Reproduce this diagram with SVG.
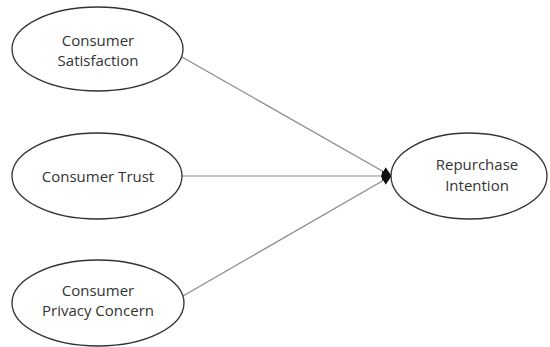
<svg xmlns="http://www.w3.org/2000/svg" width="550" height="347" viewBox="0 0 550 347">
<style>
.n{fill:#fff;stroke:#333;stroke-width:1.3}
.t{font-family:"Open Sans",sans-serif;font-size:15px;fill:#333;text-anchor:middle}
.c{stroke:#888;stroke-width:1.2;fill:none}
</style>
<defs>
<marker id="ah" markerWidth="10" markerHeight="10" refX="9" refY="5" orient="auto" markerUnits="userSpaceOnUse">
<path d="M0,0 L10,5 L0,10 Z" fill="#111"/>
</marker>
</defs>
<rect width="550" height="347" fill="#fff"/>
<g id="connectors">
<line class="c" x1="182" y1="57" x2="391" y2="176" marker-end="url(#ah)"/>
<line class="c" x1="182" y1="176" x2="391" y2="176" marker-end="url(#ah)"/>
<line class="c" x1="183" y1="296" x2="391" y2="176" marker-end="url(#ah)"/>
</g>
<g id="satisfaction">
<ellipse class="n" cx="97.5" cy="49" rx="85.5" ry="42"/>
<text class="t" x="98" y="46">Consumer</text>
<text class="t" x="98" y="66">Satisfaction</text>
</g>
<g id="trust">
<ellipse class="n" cx="97" cy="176" rx="85" ry="43"/>
<text class="t" x="98" y="182">Consumer Trust</text>
</g>
<g id="privacy">
<ellipse class="n" cx="98" cy="303" rx="86" ry="43"/>
<text class="t" x="98" y="296">Consumer</text>
<text class="t" x="98" y="316">Privacy Concern</text>
</g>
<g id="repurchase">
<ellipse class="n" cx="469" cy="176" rx="78" ry="43"/>
<text class="t" x="477" y="170">Repurchase</text>
<text class="t" x="477" y="191">Intention</text>
</g>
</svg>
